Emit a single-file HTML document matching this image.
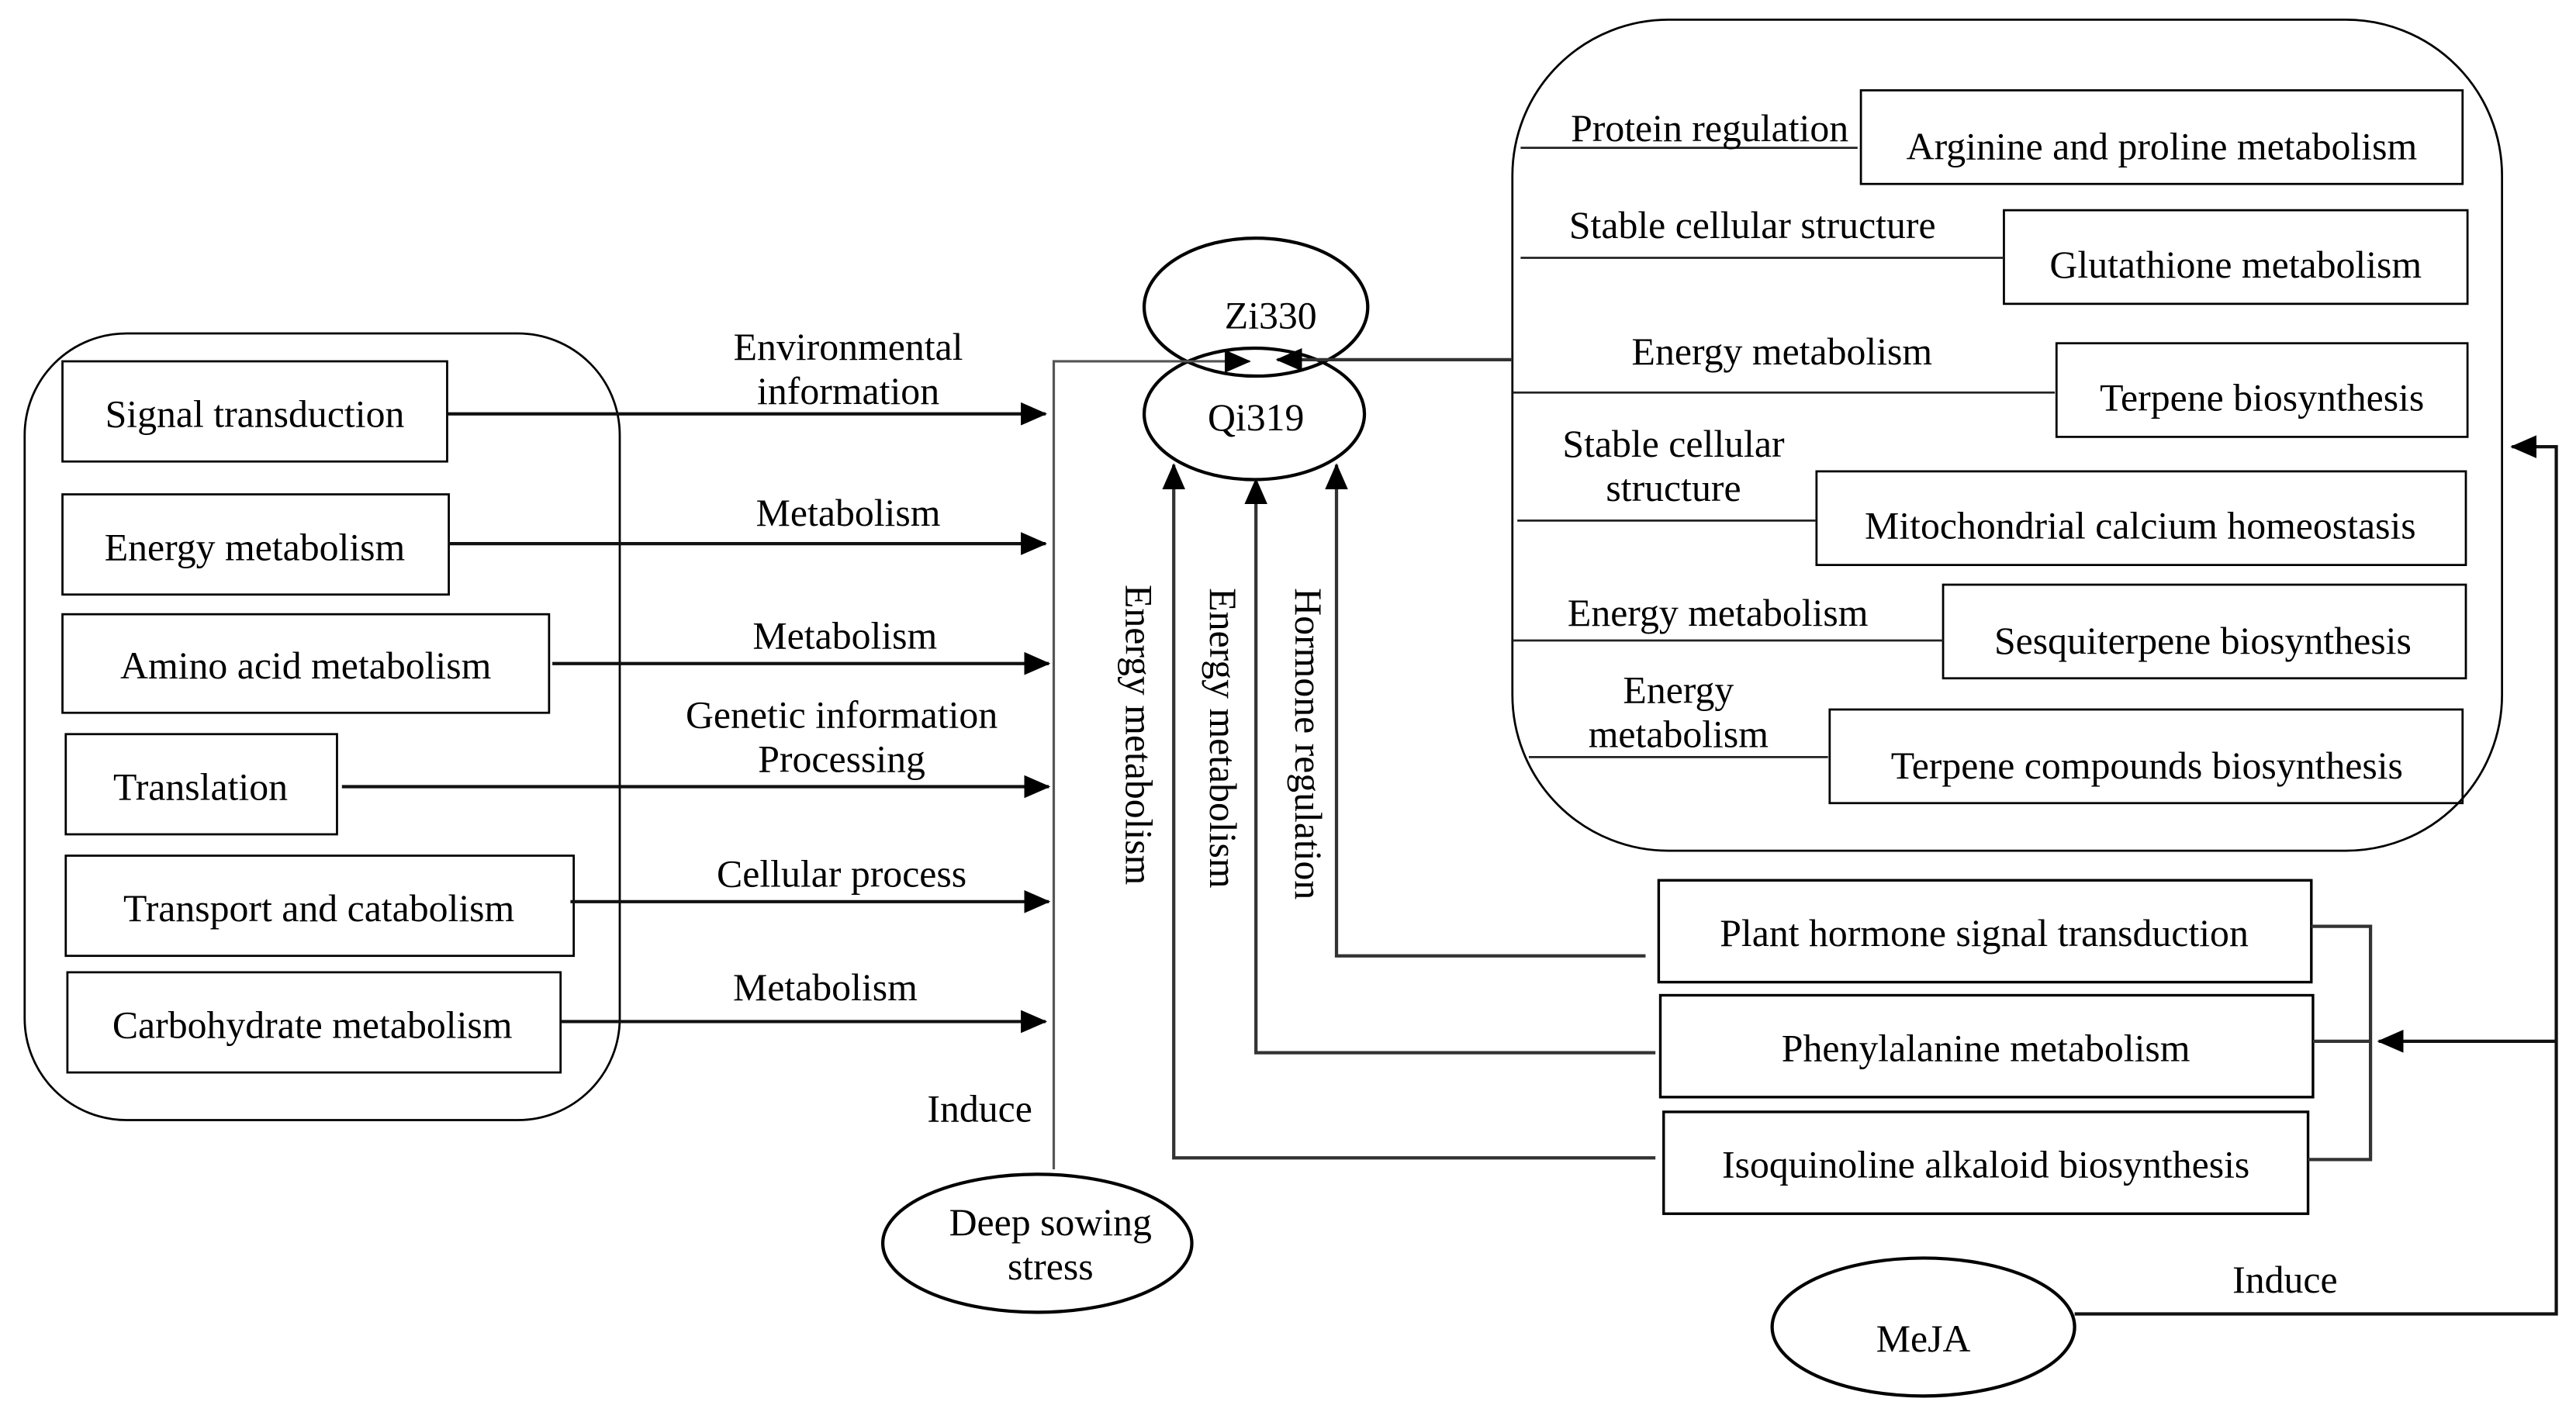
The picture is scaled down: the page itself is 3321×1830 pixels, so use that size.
<!DOCTYPE html>
<html><head><meta charset="utf-8"><style>
html,body{margin:0;padding:0;background:#fff;width:3321px;height:1830px;overflow:hidden}
svg{display:block}
text{font-family:"Liberation Serif",serif;font-size:23.5px;fill:#000}
</style></head><body>
<svg width="3321" height="1830" viewBox="0 0 1567 864" preserveAspectRatio="none" xmlns="http://www.w3.org/2000/svg">
<defs>
<marker id="b" markerWidth="16" markerHeight="16" refX="15" refY="8" orient="auto" markerUnits="userSpaceOnUse"><path d="M0,1 L16,8 L0,15 z" fill="#000"/></marker></defs>
<g fill="none" stroke="#000" stroke-width="1.3">
<rect x="15" y="203" width="362" height="479" rx="62"/>
<rect x="920" y="12" width="602" height="506" rx="95"/>
<rect x="38" y="220" width="234" height="61"/>
<rect x="38" y="301" width="235" height="61"/>
<rect x="38" y="374" width="296" height="60"/>
<rect x="40" y="447" width="165" height="61"/>
<rect x="40" y="521" width="309" height="61"/>
<rect x="41" y="592" width="300" height="61"/>
<rect x="1132" y="55" width="366" height="57"/>
<rect x="1219" y="128" width="282" height="57"/>
<rect x="1251" y="209" width="250" height="57"/>
<rect x="1105" y="287" width="395" height="57"/>
<rect x="1182" y="356" width="318" height="57"/>
<rect x="1113" y="432" width="385" height="57"/>
<rect x="1009" y="536" width="397" height="62" stroke-width="1.6"/>
<rect x="1010" y="606" width="397" height="62" stroke-width="1.6"/>
<rect x="1012" y="677" width="392" height="62" stroke-width="1.6"/>
<ellipse cx="764" cy="187" rx="68" ry="42" stroke-width="2"/>
<ellipse cx="763" cy="252" rx="67" ry="40" stroke-width="2"/>
<ellipse cx="631" cy="757" rx="94" ry="42" stroke-width="2"/>
<ellipse cx="1170" cy="808" rx="92" ry="42" stroke-width="2"/>
</g>
<g stroke="#222" stroke-width="1.3" fill="none">
<line x1="925" y1="90" x2="1130" y2="90"/>
<line x1="925" y1="157" x2="1219" y2="157"/>
<line x1="920" y1="239" x2="1250" y2="239"/>
<line x1="923" y1="317" x2="1105" y2="317"/>
<line x1="920" y1="390" x2="1182" y2="390"/>
<line x1="930" y1="461" x2="1112" y2="461"/>
</g>
<g stroke="#111" stroke-width="2" fill="none">
<line x1="272" y1="252" x2="636" y2="252" marker-end="url(#b)"/>
<line x1="273" y1="331" x2="636" y2="331" marker-end="url(#b)"/>
<line x1="336" y1="404" x2="638" y2="404" marker-end="url(#b)"/>
<line x1="208" y1="479" x2="638" y2="479" marker-end="url(#b)"/>
<line x1="347" y1="549" x2="638" y2="549" marker-end="url(#b)"/>
<line x1="341" y1="622" x2="636" y2="622" marker-end="url(#b)"/>
<polyline points="641,712 641,220 760,220" stroke="#555" stroke-width="1.5" marker-end="url(#b)"/>
<polyline points="920,219 777,219" stroke="#333" marker-end="url(#b)"/>
<polyline points="1007,705 714,705 714,283" stroke="#333" marker-end="url(#b)"/>
<polyline points="1007,641 764,641 764,292" stroke="#333" marker-end="url(#b)"/>
<polyline points="1001,582 813,582 813,283" stroke="#333" marker-end="url(#b)"/>
<polyline points="1406,564 1442,564 1442,706 1404,706" stroke="#333"/>
<line x1="1407" y1="634" x2="1442" y2="634" stroke="#333"/>
<line x1="1555" y1="634" x2="1447" y2="634" marker-end="url(#b)"/>
<polyline points="1262,800 1555,800 1555,272 1528,272" marker-end="url(#b)"/>
</g>
<g text-anchor="middle">
<text x="155" y="260">Signal transduction</text>
<text x="155" y="341">Energy metabolism</text>
<text x="186" y="413">Amino acid metabolism</text>
<text x="122" y="487">Translation</text>
<text x="194" y="561">Transport and catabolism</text>
<text x="190" y="632">Carbohydrate metabolism</text>
<text x="516" y="219">Environmental</text>
<text x="516" y="246">information</text>
<text x="516" y="320">Metabolism</text>
<text x="514" y="395">Metabolism</text>
<text x="512" y="443">Genetic information</text>
<text x="512" y="470">Processing</text>
<text x="512" y="540">Cellular process</text>
<text x="502" y="609">Metabolism</text>
<text x="596" y="683">Induce</text>
<text x="773" y="200">Zi330</text>
<text x="764" y="262">Qi319</text>
<text x="639" y="752">Deep sowing</text>
<text x="639" y="779">stress</text>
<text x="1170" y="823">MeJA</text>
<text x="1390" y="787">Induce</text>
<text x="1040" y="86">Protein regulation</text>
<text x="1315" y="97">Arginine and proline metabolism</text>
<text x="1066" y="145">Stable cellular structure</text>
<text x="1360" y="169">Glutathione metabolism</text>
<text x="1084" y="222">Energy metabolism</text>
<text x="1376" y="250">Terpene biosynthesis</text>
<text x="1018" y="278">Stable cellular</text>
<text x="1018" y="305">structure</text>
<text x="1302" y="328">Mitochondrial calcium homeostasis</text>
<text x="1045" y="381">Energy metabolism</text>
<text x="1340" y="398">Sesquiterpene biosynthesis</text>
<text x="1021" y="428">Energy</text>
<text x="1021" y="455">metabolism</text>
<text x="1306" y="474">Terpene compounds biosynthesis</text>
<text x="1207" y="576">Plant hormone signal transduction</text>
<text x="1208" y="646">Phenylalanine metabolism</text>
<text x="1208" y="717">Isoquinoline alkaloid biosynthesis</text>
</g>
<text transform="translate(685,356) rotate(90)">Energy metabolism</text>
<text transform="translate(736,358) rotate(90)">Energy metabolism</text>
<text transform="translate(788,358) rotate(90)">Hormone regulation</text>
</svg>
</body></html>
